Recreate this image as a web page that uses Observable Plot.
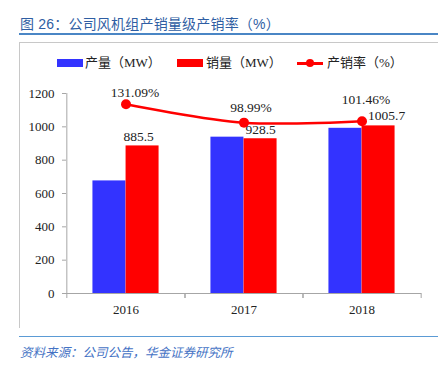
<!DOCTYPE html>
<html><head><meta charset="utf-8">
<script src="https://cdn.jsdelivr.net/npm/d3@7"></script>
<script src="https://cdn.jsdelivr.net/npm/@observablehq/plot@0.6"></script>
<style>
body{margin:0;background:#fff;}
#wrap{position:relative;width:438px;height:366px;overflow:hidden;font-family:"Liberation Serif","Noto Sans CJK SC",serif;color:#222;}
#title{position:absolute;left:20px;top:13px;font-family:"Liberation Sans","Noto Sans CJK SC",sans-serif;font-size:14px;color:#2F5EA3;white-space:nowrap;letter-spacing:0.2px;}
.hline{position:absolute;left:19px;width:419px;height:1.5px;background:#4A86C5;}
#frame{position:absolute;left:19px;top:42px;width:430px;height:285px;border-left:1px solid #C8C8C8;border-top:1px solid #C8C8C8;}
#legend{position:absolute;left:0;top:54px;width:438px;height:18px;font-size:13px;}
.item{position:absolute;top:0;height:18px;line-height:18px;white-space:nowrap;}
.sw{position:absolute;}
#chart{position:absolute;left:20px;top:80px;}
#source{position:absolute;left:20px;top:342px;font-size:12.5px;font-style:italic;color:#4472C4;font-family:"Noto Sans CJK SC",sans-serif;white-space:nowrap;}
</style></head><body>
<div id="wrap">
 <div id="title">图 26：公司风机组产销量级产销率（%）</div>
 <div class="hline" style="top:33px"></div>
 <div id="frame"></div>
 <div id="legend"></div>
 <div id="chart"></div>
 <div class="hline" style="top:336px;background:#5B9BD5;height:1px"></div>
 <div id="source">资料来源：公司公告，华金证券研究所</div>
</div>
<script>
const years = ["2016", "2017", "2018"];
const production = [675.5, 938.0, 991.2];
const sales = [885.5, 928.5, 1005.7];
const rate = [131.09, 98.99, 101.46];
const seriesNames = ["产量（MW）", "销量（MW）", "产销率（%）"];
const yTicks = [0, 200, 400, 600, 800, 1000, 1200];
const rateAxis = [-200, 150]; // hidden secondary axis range (%)

const BLUE = "#3333FF", RED = "#FF0000", GRAY = "#A6A6A6";

// legend
const legend = document.getElementById("legend");
const legendLayout = [{sx: 57, tx: 85, kind: "bar", color: BLUE}, {sx: 177, tx: 206, kind: "bar", color: RED}, {sx: 297, tx: 327, kind: "line", color: RED}];
seriesNames.forEach((name, i) => {
  const L = legendLayout[i];
  if (L.kind === "bar") {
    const s = document.createElement("div");
    s.className = "sw";
    Object.assign(s.style, {left: L.sx + "px", top: "5px", width: "26px", height: "8px", background: L.color});
    legend.appendChild(s);
  } else {
    const s = document.createElement("div");
    s.className = "sw";
    Object.assign(s.style, {left: L.sx + "px", top: "8px", width: "26px", height: "2.5px", background: L.color});
    legend.appendChild(s);
    const d = document.createElement("div");
    d.className = "sw";
    Object.assign(d.style, {left: (L.sx + 9) + "px", top: "5px", width: "8px", height: "8px", borderRadius: "50%", background: L.color});
    legend.appendChild(d);
  }
  const t = document.createElement("div");
  t.className = "item";
  t.style.left = L.tx + "px";
  t.textContent = name;
  legend.appendChild(t);
});

const data = years.map((y, i) => ({
  year: y, production: production[i], sales: sales[i], rate: rate[i],
  rateY: (rate[i] - rateAxis[0]) / (rateAxis[1] - rateAxis[0]) * yTicks[yTicks.length - 1]
}));

const W = 418, H = 240, ML = 46, MR = 17;
const step = (W - ML - MR) / years.length;
const halfBar = step * 0.28 / 2;

const salesLabelOffsets = [[-4, -9], [0, -9], [8, -10]];
const rateLabelOffsets = [[9, -12], [7, -15], [4, -22]];

const marks = [
  Plot.ruleY([0], {stroke: GRAY}),
  Plot.ruleX([years[0]], {y1: 0, y2: 1200, dx: -step / 2, stroke: GRAY}),
  Plot.axisY({ticks: yTicks, tickSize: 4, tickPadding: 8, tickFormat: d => String(d), stroke: GRAY, fill: "#222", fontSize: 13, label: null}),
  Plot.axisX({tickSize: 5, dx: -step / 2, stroke: GRAY, fill: "none", tickFormat: () => "", label: null}),
  Plot.axisX({tickSize: 5, dx: step / 2, stroke: GRAY, fill: "none", tickFormat: () => "", label: null}),
  Plot.axisX({tickSize: 0, tickPadding: 11, fill: "#222", fontSize: 13, label: null}),
  Plot.barY(data, {x: "year", y: "production", fill: BLUE, dx: -halfBar}),
  Plot.barY(data, {x: "year", y: "sales", fill: RED, dx: halfBar}),
  Plot.line(data, {x: "year", y: "rateY", stroke: RED, strokeWidth: 2.5, curve: "catmull-rom"}),
  Plot.dot(data, {x: "year", y: "rateY", r: 5, fill: RED})
];
data.forEach((d, i) => {
  marks.push(Plot.text([d], {x: "year", y: "sales", text: d => String(d.sales), dx: halfBar + salesLabelOffsets[i][0], dy: salesLabelOffsets[i][1], fill: "#222", fontSize: 13.5}));
  marks.push(Plot.text([d], {x: "year", y: "rateY", text: d => d.rate.toFixed(2) + "%", dx: rateLabelOffsets[i][0], dy: rateLabelOffsets[i][1], fill: "#222", fontSize: 13.5}));
});

const chart = Plot.plot({
  width: W, height: H, marginLeft: ML, marginRight: MR, marginTop: 13, marginBottom: 27,
  style: {fontFamily: "'Liberation Serif', serif", fontSize: "13px", color: "#222", background: "transparent", overflow: "visible"},
  x: {domain: years, paddingInner: 0.72, paddingOuter: 0.36, axis: null, label: null},
  y: {domain: [0, 1200], axis: null, label: null},
  marks
});
document.getElementById("chart").appendChild(chart);
</script>
</body></html>
